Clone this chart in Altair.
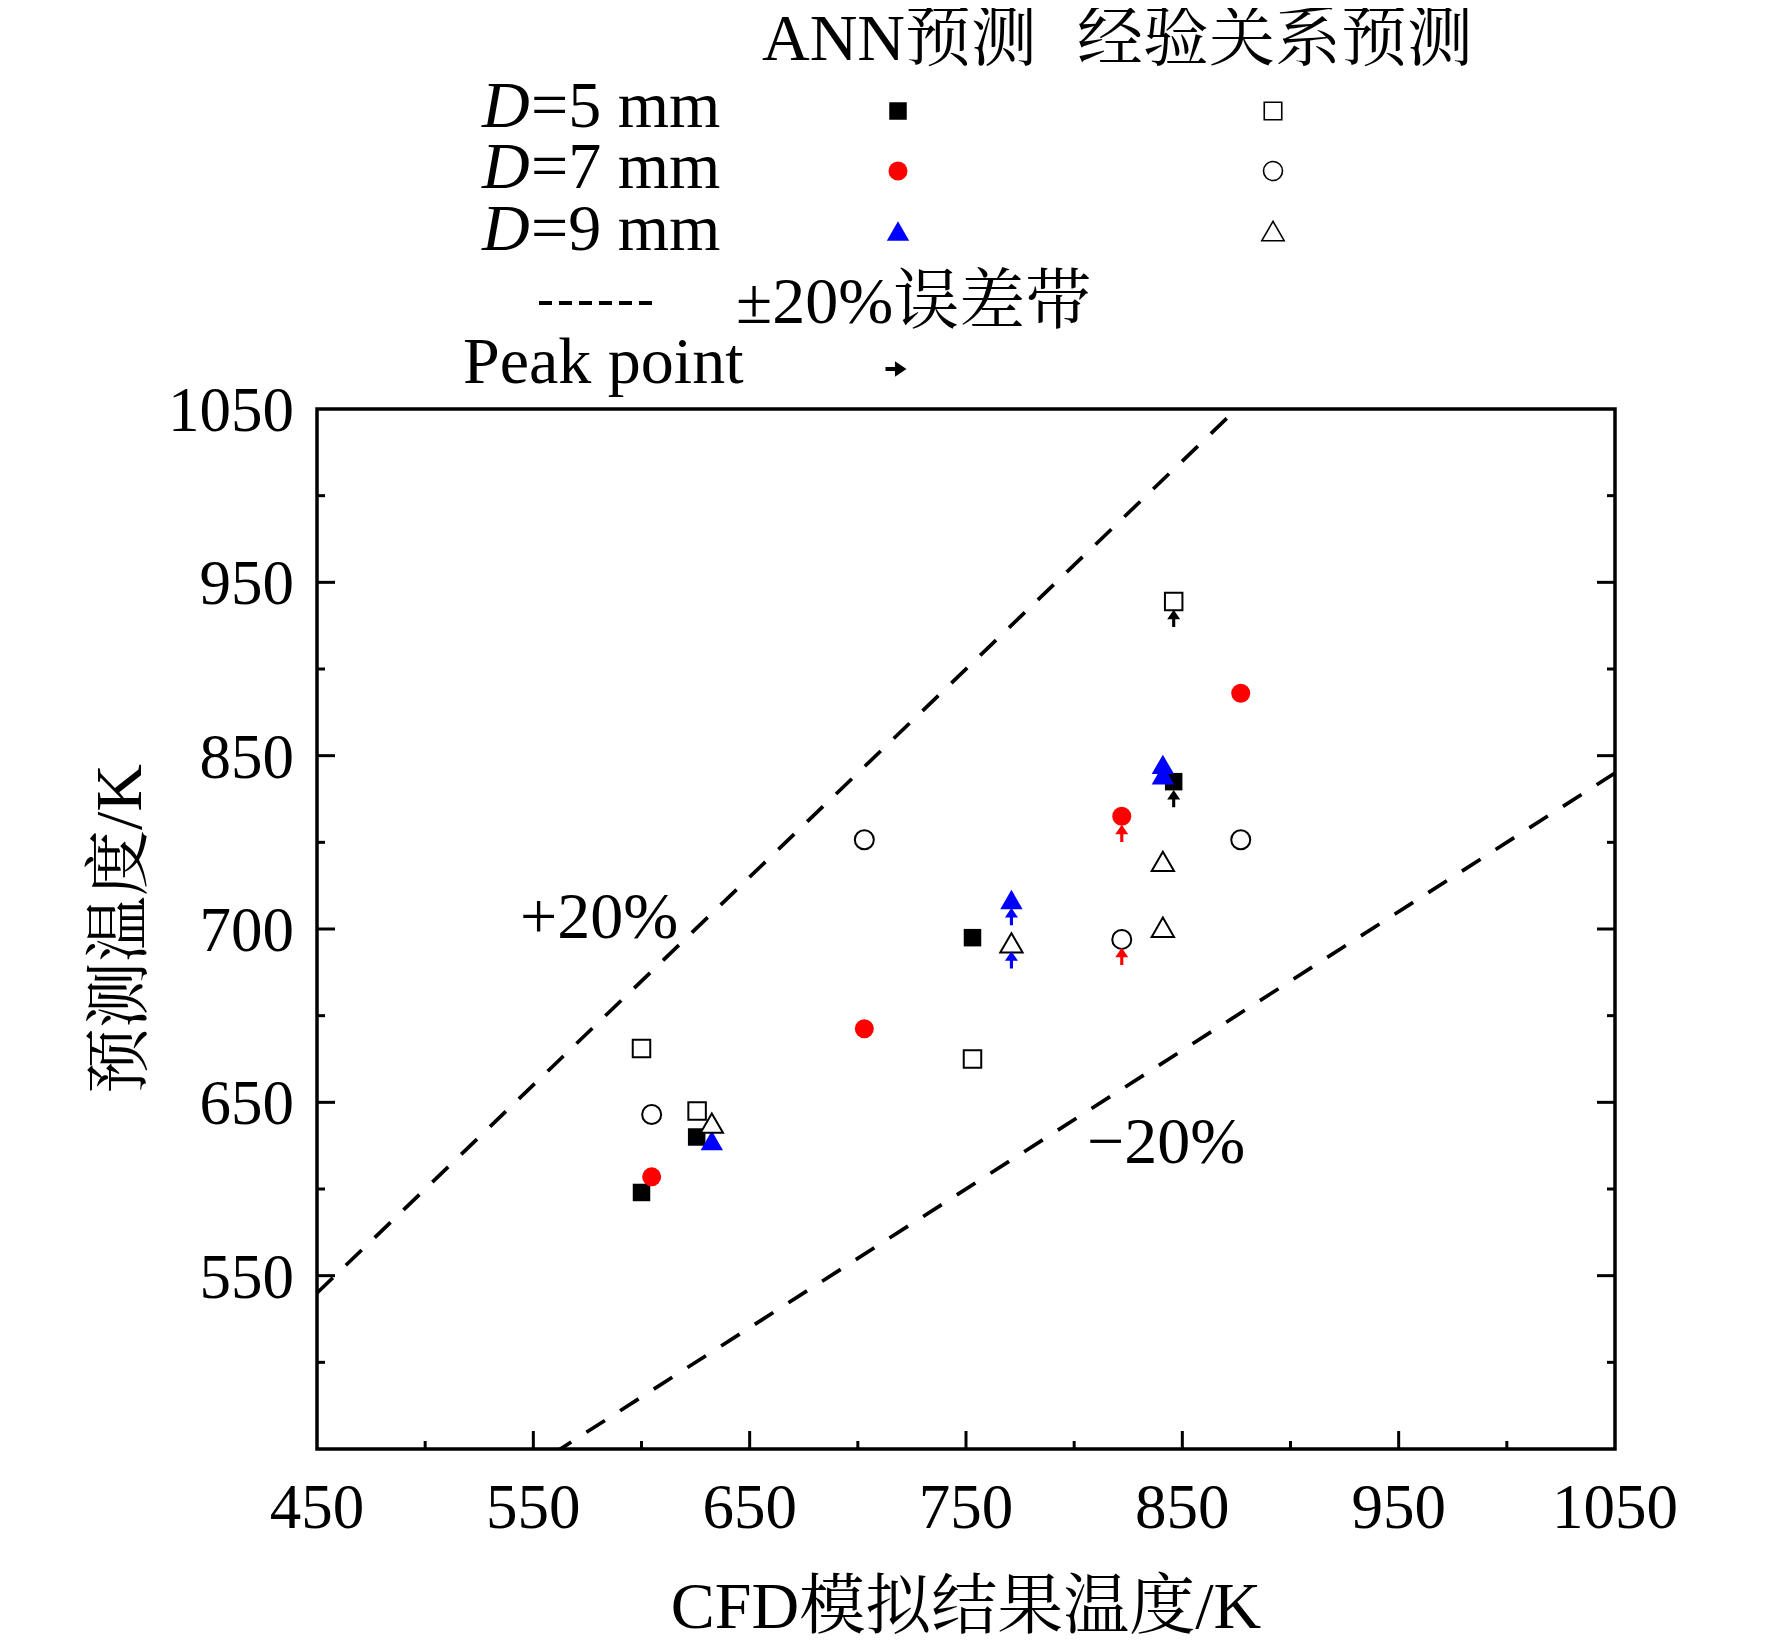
import altair as alt
import pandas as pd

# ---------------- data ----------------
x_tick_values = [450, 550, 650, 750, 850, 950, 1050]
x_tick_labels = ["450", "550", "650", "750", "850", "950", "1050"]
y_tick_values = [550, 650, 750, 850, 950, 1050]
y_tick_labels = ["550", "650", "700", "850", "950", "1050"]
major_ticks = [550, 650, 750, 850, 950]
minor_ticks = [500, 600, 700, 800, 900, 1000]

# ANN predictions (filled markers)
ann_d5_x = [600, 625.5, 753, 846]
ann_d5_y = [598, 630, 745, 835]
ann_d7_x = [604.7, 703, 822, 877]
ann_d7_y = [607, 692.5, 815, 886]
ann_d9_x = [632.5, 771, 841, 841]
ann_d9_y = [628, 767, 845, 839]

# empirical-correlation predictions (open markers)
emp_d5_x = [600, 625.7, 753, 846]
emp_d5_y = [681, 645, 675, 939]
emp_d7_x = [604.7, 703, 822, 877]
emp_d7_y = [643, 801.5, 744, 801.5]
emp_d9_x = [632.5, 771, 841, 841]
emp_d9_y = [638, 742, 789, 751]

# peak points (arrows under these markers)
peak_x = [846, 846, 822, 822, 771, 771]
peak_y = [939, 835, 815, 744, 767, 742]
peak_d = ["D=5 mm", "D=5 mm", "D=7 mm", "D=7 mm", "D=9 mm", "D=9 mm"]

band_names = ["+20%", "-20%"]
band_factors = [1.2, 0.8]

series_names = ["D=5 mm", "D=7 mm", "D=9 mm"]
series_colors = ["#000000", "#ff0000", "#0000ff"]
legend_nums = ["=5 mm", "=7 mm", "=9 mm"]

# ---------------- layout / style ----------------
W, H = 1298, 1040
FONT = "'Liberation Serif', 'Times New Roman', 'Noto Serif CJK SC', 'Noto Sans CJK SC', serif"
FS = 66
ARROW = "M0,-1L0.75,0.1L0.18,0.1L0.18,1L-0.18,1L-0.18,0.1L-0.75,0.1Z"

xs = alt.Scale(domain=[450, 1050], nice=False, zero=False)
ys = alt.Scale(domain=[450, 1050], nice=False, zero=False)

one = pd.DataFrame({"a": [0]})

# ---------------- error-band lines ----------------
band_df = pd.DataFrame({
    "band": [b for b in band_names for _ in (0, 1)],
    "f": [f for f in band_factors for _ in (0, 1)],
    "x": [450, 1050] * len(band_names),
})
bands = alt.Chart(band_df).transform_calculate(
    y="datum.f * datum.x"
).mark_line(color="black", strokeWidth=3.7, strokeDash=[22, 18], clip=True).encode(
    x=alt.X("x:Q", scale=xs, axis=None),
    y=alt.Y("y:Q", scale=ys, axis=None),
    detail="band:N",
)

layers = [bands]

# ---------------- inward ticks ----------------
maj_df = pd.DataFrame({"v": major_ticks})
min_df = pd.DataFrame({"v": minor_ticks})
for df, ln in ((maj_df, 18), (min_df, 8)):
    layers.append(alt.Chart(df).mark_rule(color="black", strokeWidth=3).encode(
        x=alt.X("v:Q", scale=xs, axis=None), y=alt.value(H), y2=alt.value(H - ln)))
    layers.append(alt.Chart(df).mark_rule(color="black", strokeWidth=3).encode(
        y=alt.Y("v:Q", scale=ys, axis=None), x=alt.value(0), x2=alt.value(ln)))
    layers.append(alt.Chart(df).mark_rule(color="black", strokeWidth=3).encode(
        y=alt.Y("v:Q", scale=ys, axis=None), x=alt.value(W), x2=alt.value(W - ln)))

# ---------------- tick labels ----------------
xlab_df = pd.DataFrame({"v": x_tick_values, "t": x_tick_labels})
ylab_df = pd.DataFrame({"v": y_tick_values, "t": y_tick_labels})
layers.append(alt.Chart(xlab_df).mark_text(
    font=FONT, fontSize=63, color="black", align="center", baseline="alphabetic").encode(
    x=alt.X("v:Q", scale=xs, axis=None), y=alt.value(H + 79), text="t:N"))
layers.append(alt.Chart(ylab_df).mark_text(
    font=FONT, fontSize=63, color="black", align="right", baseline="alphabetic", dy=22).encode(
    y=alt.Y("v:Q", scale=ys, axis=None), x=alt.value(-23), text="t:N"))

# ---------------- points ----------------
shapes = ["square", "circle", "triangle-up"]
sizes = [306, 361, 500]
ann = [(ann_d5_x, ann_d5_y), (ann_d7_x, ann_d7_y), (ann_d9_x, ann_d9_y)]
emp = [(emp_d5_x, emp_d5_y), (emp_d7_x, emp_d7_y), (emp_d9_x, emp_d9_y)]

for (px, py), shp, sz, col in zip(ann, shapes, sizes, series_colors):
    layers.append(alt.Chart(pd.DataFrame({"x": px, "y": py})).mark_point(
        shape=shp, size=sz, filled=True, fill=col, opacity=1, strokeWidth=0).encode(
        x=alt.X("x:Q", scale=xs, axis=None), y=alt.Y("y:Q", scale=ys, axis=None)))

for (px, py), shp, sz in zip(emp, shapes, sizes):
    layers.append(alt.Chart(pd.DataFrame({"x": px, "y": py})).mark_point(
        shape=shp, size=sz, filled=True, fill="white", stroke="black",
        strokeWidth=2, opacity=1).encode(
        x=alt.X("x:Q", scale=xs, axis=None), y=alt.Y("y:Q", scale=ys, axis=None)))

# peak arrows
layers.append(alt.Chart(pd.DataFrame({"x": peak_x, "y": peak_y, "D": peak_d})).mark_point(
    shape=ARROW, size=300, filled=True, opacity=1, strokeWidth=0, yOffset=17).encode(
    x=alt.X("x:Q", scale=xs, axis=None), y=alt.Y("y:Q", scale=ys, axis=None),
    color=alt.Color("D:N", scale=alt.Scale(domain=series_names, range=series_colors), legend=None)))


# ---------------- text helpers ----------------
def txt(t, x, y, size=FS, align="left", baseline="alphabetic", style="normal", angle=0):
    kw = dict(text=t, font=FONT, fontSize=size, align=align, baseline=baseline,
              fontStyle=style, color="black")
    if angle:
        kw["angle"] = angle
    return alt.Chart(one).mark_text(**kw).encode(x=alt.value(x), y=alt.value(y))


# band annotations
layers.append(txt("+20%", 203, 529))
layers.append(txt("\u221220%", 770, 754))

# axis titles
layers.append(txt("CFD模拟结果温度/K", W / 2, H + 179, align="center"))
layers.append(txt("预测温度/K", -196, 520, align="center", baseline="middle", angle=270))

# ---------------- legend (above the plot) ----------------
layers.append(txt("ANN预测", 445, -349))
layers.append(txt("经验关系预测", 760, -349))
rows_y = [-282, -221, -159]
marker_y = [-298, -238, -178]
for lab, ty, my, shp, sz, col in zip(legend_nums, rows_y, marker_y, shapes, sizes, series_colors):
    layers.append(txt("D", 165, ty, style="italic"))
    layers.append(txt(lab, 214, ty))
    layers.append(alt.Chart(one).mark_point(shape=shp, size=sz, filled=True, fill=col,
                                            opacity=1, strokeWidth=0).encode(
        x=alt.value(581), y=alt.value(my)))
    layers.append(alt.Chart(one).mark_point(shape=shp, size=sz, filled=True, fill="white",
                                            stroke="black", strokeWidth=1.6, opacity=1).encode(
        x=alt.value(956), y=alt.value(my)))

layers.append(alt.Chart(one).mark_rule(color="black", strokeWidth=4, strokeDash=[13, 7]).encode(
    x=alt.value(222), x2=alt.value(340), y=alt.value(-106)))
layers.append(txt("±20%误差带", 419, -86))
layers.append(txt("Peak point", 146, -26))
layers.append(alt.Chart(one).mark_point(shape=ARROW, size=440, filled=True, fill="black",
                                        opacity=1, strokeWidth=0, angle=90).encode(
    x=alt.value(579), y=alt.value(-40)))

chart = alt.layer(*layers).properties(
    width=W, height=H,
    autosize=alt.AutoSizeParams(type="none"),
    padding={"left": 309, "top": 401, "right": 149, "bottom": 191},
    background="white",
).configure_view(stroke="black", strokeWidth=3.5)

chart.save("out.html", embed_options={"renderer": "svg", "actions": False})
